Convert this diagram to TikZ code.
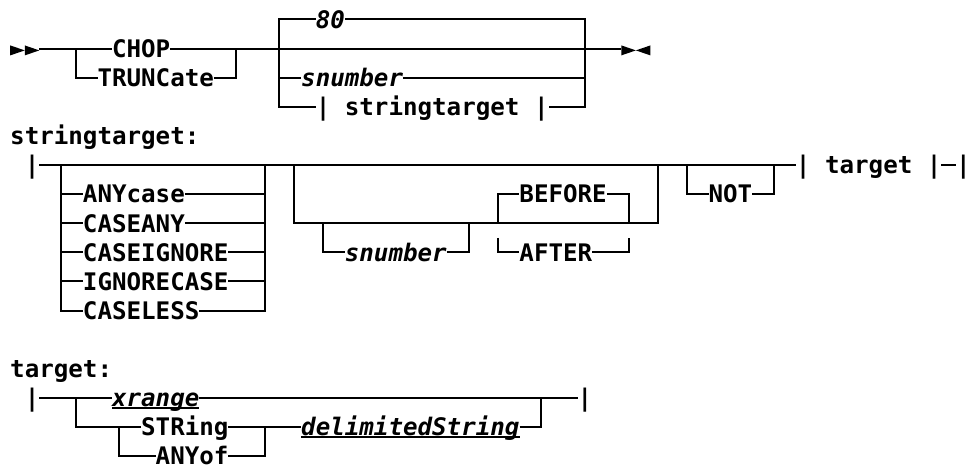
\documentclass[tikz,border=0pt]{standalone}
\usepackage{fontspec}
\setmonofont{DejaVu Sans Mono}[
  BoldFont={DejaVu Sans Mono Bold},
  ItalicFont={DejaVu Sans Mono Oblique},
  BoldItalicFont={DejaVu Sans Mono Bold Oblique}]
\begin{document}
% Grid: one unit in x is one character cell, one unit in y is one text row.
\begin{tikzpicture}[x=14.55pt, y=-29.1pt,
  rail/.style={line width=2pt, draw=black},
  uline/.style={line width=1.8pt, draw=black},
  kw/.style={font=\ttfamily\bfseries\fontsize{24.17pt}{29pt}\selectfont,
    inner sep=0pt, outer sep=0pt, text height=17.62pt, text depth=0pt, anchor=west},
  var/.style={kw, font=\ttfamily\bfseries\itshape\fontsize{24.17pt}{29pt}\selectfont}]
\useasboundingbox (-1.201,-0.670) rectangle (65.60,15.412);

% ---------------- CHOP / TRUNCate ----------------
\fill ([yshift=3.2pt]-0.5,1) -- ([yshift=-6.8pt]-0.5,1) -- ([yshift=-1.8pt]0.5,1) -- cycle;
\fill ([yshift=3.2pt]0.5,1) -- ([yshift=-6.8pt]0.5,1) -- ([yshift=-1.8pt]1.5,1) -- cycle;
\fill ([yshift=3.2pt]41.5,1) -- ([yshift=-6.8pt]41.5,1) -- ([yshift=-1.8pt]42.5,1) -- cycle;
\fill ([yshift=3.2pt]43.5,1) -- ([yshift=-6.8pt]43.5,1) -- ([yshift=-1.8pt]42.5,1) -- cycle;

\coordinate (s0) at (1.5,1);
\coordinate (a1) at (4,1);
\coordinate (a2) at (15,1);
\coordinate (a3) at (18,1);
\coordinate (a4) at (39,1);
\coordinate (e0) at (41.5,1);

\node[kw]  (chop)  at (6.5,1)  {CHOP};
\node[kw]  (trunc) at (5.5,2)  {TRUNCate};
\node[var] (dflt)  at (20.5,0) {80};
\node[var] (snA)   at (19.5,2) {snumber};
\node[kw]  (stref) at (20.5,3) {| stringtarget |};

\draw[rail] (s0) -- (chop.west);
\draw[rail] (chop.east) -- (e0);
\draw[rail] (a1) |- (trunc.west);
\draw[rail] (trunc.east) -| (a2);
\draw[rail] (dflt.west) -| (stref.west -| a3) -- (stref.west);
\draw[rail] (a3) |- (snA.west);
\draw[rail] (dflt.east) -| (stref.east -| a4) -- (stref.east);
\draw[rail] (snA.east) -- (snA.east -| a4);

% ---------------- stringtarget ----------------
\node[kw] (h2)    at (-0.5,4) {stringtarget:};
\node[kw] (bar2)  at (0.5,5)  {|};
\node[kw] (tref)  at (53.5,5) {| target |};
\node[kw] (bar2e) at (64.5,5) {|};
\draw[rail] (bar2.east) -- (tref.west);
\draw[rail] (tref.east) -- (bar2e.west);

% case options
\coordinate (c0) at (3,5);
\coordinate (c1) at (17,5);
\node[kw] (o1) at (4.5,6)  {ANYcase};
\node[kw] (o2) at (4.5,7)  {CASEANY};
\node[kw] (o3) at (4.5,8)  {CASEIGNORE};
\node[kw] (o4) at (4.5,9)  {IGNORECASE};
\node[kw] (o5) at (4.5,10) {CASELESS};
\draw[rail] (c0) |- (o5.west);
\draw[rail] (o5.east) -| (c1);
\foreach \o in {o1,o2,o3,o4} {
  \draw[rail] (c0 |- \o.west) -- (\o.west);
  \draw[rail] (\o.east) -- (\o.east -| c1);
}

% position: [snumber] BEFORE|AFTER
\coordinate (p0) at (19,5);
\coordinate (p1) at (44,5);
\coordinate (q0) at (21,7);
\coordinate (q1) at (31,7);
\coordinate (r0) at (33,7);
\coordinate (r1) at (42,7);
\coordinate (r0b) at (33,7.5);
\coordinate (r1b) at (42,7.5);
\draw[rail] (p0) |- (p1 |- q0) -- (p1);
\node[var] (snB) at (22.5,8) {snumber};
\draw[rail] (q0) |- (snB.west);
\draw[rail] (snB.east) -| (q1);
\node[kw] (bef) at (34.5,6) {BEFORE};
\draw[rail] (r0) |- (bef.west);
\draw[rail] (bef.east) -| (r1);
\node[kw] (aft) at (34.5,8) {AFTER};
\draw[rail] (r0b) |- (aft.west);
\draw[rail] (aft.east) -| (r1b);

% NOT
\coordinate (n0) at (46,5);
\coordinate (n1) at (52,5);
\node[kw] (nt) at (47.5,6) {NOT};
\draw[rail] (n0) |- (nt.west);
\draw[rail] (nt.east) -| (n1);

% ---------------- target ----------------
\node[kw]  (h3)    at (-0.5,12) {target:};
\node[kw]  (bar3)  at (0.5,13)  {|};
\node[var] (xr)    at (6.5,13)  {xrange};
\node[kw]  (bar3e) at (38.5,13) {|};
\coordinate (t0) at (4,13);
\coordinate (t1) at (36,13);
\draw[rail] (bar3.east) -- (xr.west);
\draw[rail] (xr.east) -- (bar3e.west);

\coordinate (u0) at (7,14);
\coordinate (u1) at (17,14);
\node[kw]  (strg)  at (8.5,14)  {STRing};
\node[kw]  (anyof) at (9.5,15)  {ANYof};
\node[var] (dls)   at (19.5,14) {delimitedString};
\draw[rail] (t0) |- (strg.west);
\draw[rail] (strg.east) -- (dls.west);
\draw[rail] (dls.east) -| (t1);
\draw[rail] (u0) |- (anyof.west);
\draw[rail] (anyof.east) -| (u1);

\draw[uline] ([yshift=-1.2pt]xr.south west) -- ([yshift=-1.2pt]xr.south east);
\draw[uline] ([yshift=-1.2pt]dls.south west) -- ([yshift=-1.2pt]dls.south east);
\end{tikzpicture}
\end{document}
